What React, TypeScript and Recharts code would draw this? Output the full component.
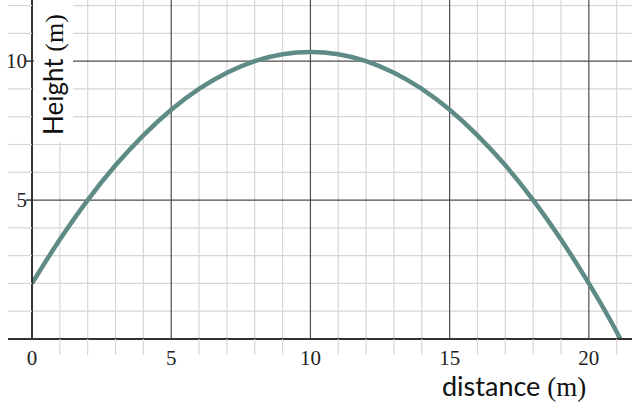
import React from 'react';
import { LineChart, Line, XAxis, YAxis, ReferenceLine } from "recharts";

// distance (m) and height (m)
const distance = [0, 1, 2, 3, 4, 5, 6, 7, 8, 9, 10, 11, 12, 13, 14, 15, 16, 17, 18, 19, 20, 21, 21.13];
const height = [2.0, 3.58, 5.0, 6.25, 7.33, 8.25, 9.0, 9.58, 10.0, 10.25, 10.33, 10.25, 10.0, 9.58, 9.0, 8.25, 7.33, 6.25, 5.0, 3.58, 2.0, 0.25, 0];

const xTicks = [0, 1, 2, 3, 4, 5, 6, 7, 8, 9, 10, 11, 12, 13, 14, 15, 16, 17, 18, 19, 20, 21];
const yTicks = [0, 1, 2, 3, 4, 5, 6, 7, 8, 9, 10, 11, 12];
const xLabelled = [0, 5, 10, 15, 20];
const yLabelled = [5, 10];

const MINOR = "#d6d6d6";
const MAJOR = "#4d4d4d";
const AXIS = "#333333";
const CURVE = "#5e8b86";
const SERIF = "'Liberation Serif', 'Times New Roman', serif";
const SANS = "Lato, 'Noto Sans', sans-serif";

const data = distance.map((d, i) => ({ x: d, y: height[i] }));

const XTick = (props: any) => {
  const { x, y, payload } = props;
  const v = payload.value;
  if (xLabelled.includes(v)) {
    return (
      <text x={x} y={y + 26} textAnchor="middle" fontFamily={SERIF} fontSize={21} fill="#222">
        {v}
      </text>
    );
  }
  return <line x1={x} y1={y} x2={x} y2={y + 16} stroke={MINOR} strokeWidth={1.2} />;
};

const YTick = (props: any) => {
  const { x, y, payload } = props;
  const v = payload.value;
  if (v === 0) {
    return <line x1={8} y1={y} x2={x} y2={y} stroke={AXIS} strokeWidth={2} />;
  }
  if (yLabelled.includes(v)) {
    return (
      <g>
        <line x1={x - 6} y1={y} x2={x} y2={y} stroke={AXIS} strokeWidth={1.5} />
        <text x={x - 5} y={y} dy="0.35em" textAnchor="end" fontFamily={SERIF} fontSize={21} fill="#222">
          {v}
        </text>
      </g>
    );
  }
  return <line x1={8} y1={y} x2={x} y2={y} stroke={MINOR} strokeWidth={1.2} />;
};

export default function App() {
  return (
    <div style={{ position: "absolute", left: 0, top: 0, width: 640, height: 404, background: "#fff" }}>
      <LineChart width={640} height={404} data={data} margin={{ top: 0, right: 8, left: 0, bottom: 0 }}>
        <XAxis
          type="number"
          dataKey="x"
          domain={[0, 21.55]}
          ticks={xTicks}
          interval={0}
          height={65}
          tickSize={0}
          tickMargin={0}
          tickLine={false}
          axisLine={{ stroke: AXIS, strokeWidth: 2 }}
          tick={<XTick />}
          allowDataOverflow
        />
        <YAxis
          type="number"
          domain={[0, 12.2]}
          ticks={yTicks}
          interval={0}
          width={32}
          tickSize={0}
          tickMargin={0}
          tickLine={false}
          axisLine={{ stroke: AXIS, strokeWidth: 2 }}
          tick={<YTick />}
          allowDataOverflow
        />
        {xTicks.filter((v) => v % 5 !== 0).map((v) => (
          <ReferenceLine key={`mx${v}`} x={v} stroke={MINOR} strokeWidth={1.2} />
        ))}
        {yTicks.filter((v) => v % 5 !== 0).map((v) => (
          <ReferenceLine key={`my${v}`} y={v} stroke={MINOR} strokeWidth={1.2} />
        ))}
        {xTicks.filter((v) => v % 5 === 0 && v > 0).map((v) => (
          <ReferenceLine key={`Mx${v}`} x={v} stroke={MAJOR} strokeWidth={1.2} />
        ))}
        {yTicks.filter((v) => v % 5 === 0 && v > 0).map((v) => (
          <ReferenceLine key={`My${v}`} y={v} stroke={MAJOR} strokeWidth={1.2} />
        ))}
        <Line
          type="monotone"
          dataKey="y"
          stroke={CURVE}
          strokeWidth={4.5}
          dot={false}
          isAnimationActive={false}
        />
      </LineChart>
      <svg width={640} height={404} style={{ position: "absolute", left: 0, top: 0, pointerEvents: "none" }}>
        <rect x={34} y={0} width={39} height={142} fill="#fff" />
        <text x={63} y={135} transform="rotate(-90 63 135)" fontFamily={SANS} fontSize={26} fill="#111">
          Height <tspan fontFamily={SERIF}>(m)</tspan>
        </text>
        <text x={442} y={396} fontFamily={SANS} fontSize={27} fill="#111">
          distance <tspan fontFamily={SERIF}>(m)</tspan>
        </text>
      </svg>
    </div>
  );
}
